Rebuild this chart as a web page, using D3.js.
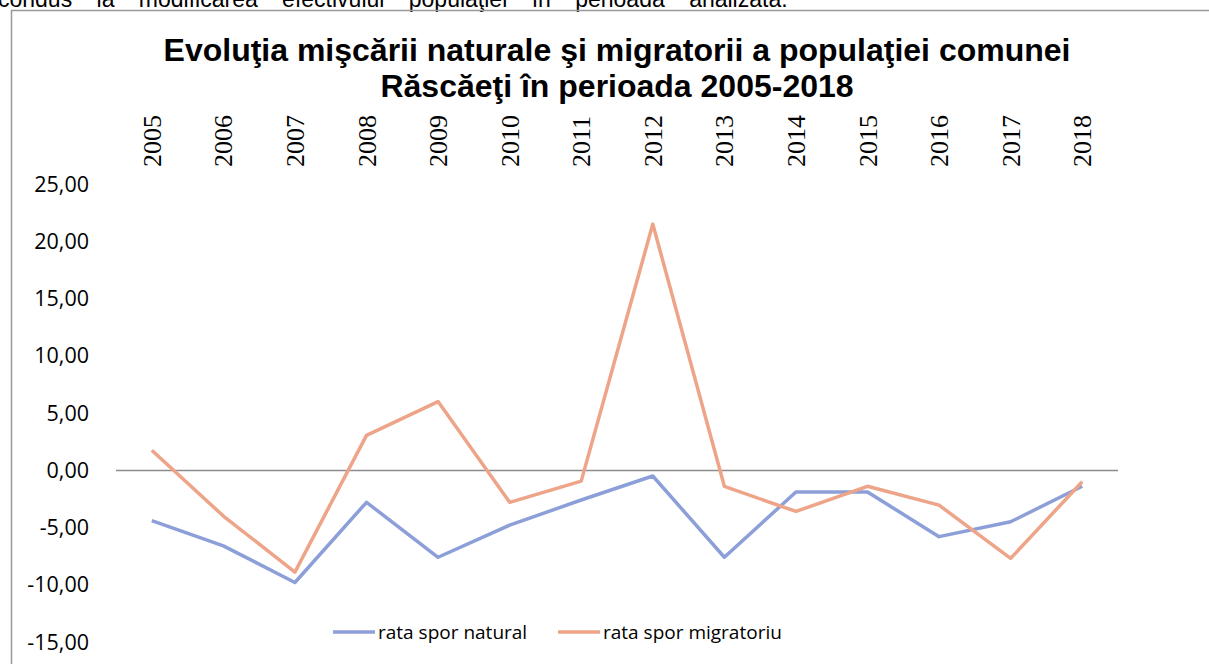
<!DOCTYPE html>
<html>
<head>
<meta charset="utf-8">
<script src="https://cdn.jsdelivr.net/npm/d3@7"></script>
<style>
  body { margin: 0; background: #fff; }
  svg { display: block; }
  .title { font-family: "Liberation Sans", Arial, sans-serif; font-weight: bold; font-size: 32px; fill: #000; }
  .para { font-family: "Liberation Sans", Arial, sans-serif; font-size: 23px; word-spacing: 18px; fill: #000; }
  .ytick { font-family: "Open Sans", sans-serif; font-size: 21.5px; fill: #000; }
  .xtick { font-family: "Liberation Serif", serif; font-size: 26px; fill: #000; }
  .legend { font-family: "Open Sans", sans-serif; font-size: 19px; fill: #000; }
</style>
</head>
<body>
<svg id="chart" width="1209" height="664"></svg>
<script>
var years = ['2005','2006','2007','2008','2009','2010','2011','2012','2013','2014','2015','2016','2017','2018'];
var natural = [-4.4, -6.6, -9.8, -2.8, -7.6, -4.8, -2.6, -0.5, -7.6, -1.9, -1.9, -5.8, -4.5, -1.4];
var migratoriu = [1.75, -4.0, -8.9, 3.05, 6.0, -2.8, -0.95, 21.5, -1.4, -3.6, -1.4, -3.05, -7.7, -1.0];
var yTicks = [25, 20, 15, 10, 5, 0, -5, -10, -15];
var seriesNames = ['rata spor natural', 'rata spor migratoriu'];
var seriesColors = ['#8c9fd8', '#eea488'];

var svg = d3.select('#chart');

// end of the paragraph above the chart, cut by the page edge as in the source
svg.append('text')
   .attr('class', 'para')
   .attr('x', -2)
   .attr('y', 7)
   .text('condus la modificarea efectivului populaţiei în perioada analizată.');

// chart frame
svg.append('line')
   .attr('x1', 11).attr('y1', 10.5).attr('x2', 1209).attr('y2', 10.5)
   .attr('stroke', '#999').attr('stroke-width', 1.5);
svg.append('line')
   .attr('x1', 11.5).attr('y1', 10).attr('x2', 11.5).attr('y2', 664)
   .attr('stroke', '#999').attr('stroke-width', 1.5);

svg.append('text')
   .attr('class', 'title')
   .attr('x', 617).attr('y', 61)
   .attr('text-anchor', 'middle')
   .text('Evoluţia mişcării naturale şi migratorii a populaţiei comunei');
svg.append('text')
   .attr('class', 'title')
   .attr('x', 617).attr('y', 97)
   .attr('text-anchor', 'middle')
   .text('Răscăeţi în perioada 2005-2018');

var x = d3.scaleBand()
    .domain(years)
    .range([116, 1118]);

var y = d3.scaleLinear()
    .domain([-15, 25])
    .range([642, 184]);

// y labels
svg.append('g')
   .selectAll('text')
   .data(yTicks)
   .enter()
   .append('text')
   .attr('class', 'ytick')
   .attr('x', 89)
   .attr('y', function(d){ return y(d); })
   .attr('dy', '0.35em')
   .attr('text-anchor', 'end')
   .text(function(d){ return d.toFixed(2).replace('.', ','); });

// x labels (rotated, on top)
svg.append('g')
   .selectAll('text')
   .data(years)
   .enter()
   .append('text')
   .attr('class', 'xtick')
   .attr('transform', function(d){
     return 'translate(' + (x(d) + x.bandwidth() / 2 + 9) + ', 167) rotate(-90)';
   })
   .text(function(d){ return d; });

// zero line
svg.append('line')
   .attr('x1', x.range()[0]).attr('x2', x.range()[1])
   .attr('y1', Math.round(y(0)) + 0.5).attr('y2', Math.round(y(0)) + 0.5)
   .attr('stroke', '#8c8c8c').attr('stroke-width', 1.3);

var line = d3.line()
    .x(function(d, i){ return x(years[i]) + x.bandwidth() / 2; })
    .y(function(d){ return y(d); });

[natural, migratoriu].forEach(function(vals, i){
  svg.append('path')
     .datum(vals)
     .attr('d', line)
     .attr('fill', 'none')
     .attr('stroke', seriesColors[i])
     .attr('stroke-width', 3.5)
     .attr('stroke-linejoin', 'round');
});

// legend
var legendX = [333, 558];
seriesNames.forEach(function(name, i){
  var g = svg.append('g').attr('transform', 'translate(' + legendX[i] + ', 632)');
  g.append('line')
   .attr('x1', 0).attr('x2', 42).attr('y1', 0).attr('y2', 0)
   .attr('stroke', seriesColors[i]).attr('stroke-width', 3.5);
  g.append('text')
   .attr('class', 'legend')
   .attr('x', 45).attr('dy', '0.35em')
   .text(name);
});
</script>
</body>
</html>
